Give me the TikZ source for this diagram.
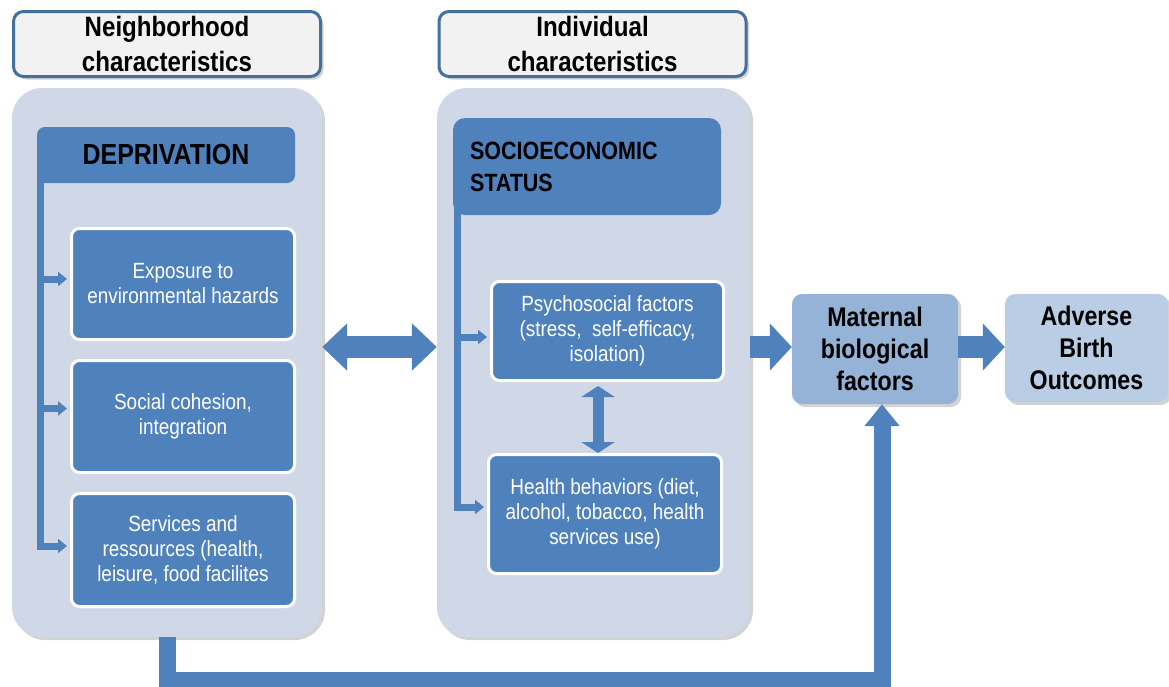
\documentclass[tikz,border=0pt]{standalone}
\usepackage{fontspec}
\setmainfont{Liberation Sans}[FakeStretch=0.86]
\usetikzlibrary{arrows.meta,shadows,calc}

\definecolor{ofblue}{HTML}{4F81BD}
\definecolor{panelfill}{HTML}{D0D8E8}
\definecolor{headline}{HTML}{41719C}
\definecolor{headfill}{HTML}{F2F2F2}
\definecolor{matfill}{HTML}{95B3D7}
\definecolor{advfill}{HTML}{B9CDE5}

\begin{document}
\begin{tikzpicture}[x=1pt,y=-1pt,
  shade/.style={drop shadow={shadow xshift=3pt,shadow yshift=-3pt,opacity=0.35}},
  head/.style={draw=headline,line width=3pt,fill=headfill,rounded corners=10pt,
    minimum width=307pt,minimum height=65pt,inner sep=0pt,align=center,
    font=\bfseries\fontsize{28}{35}\selectfont,shade},
  panel/.style={fill=panelfill,rounded corners=30pt,inner sep=0pt,shade},
  item/.style={draw=white,line width=3pt,fill=ofblue,rounded corners=8pt,text=white,
    inner sep=0pt,align=center,font=\fontsize{22}{25}\selectfont},
  factor/.style={rounded corners=10pt,inner sep=0pt,align=center,
    font=\bfseries\fontsize{27}{32}\selectfont,shade},
  bar/.style={draw=ofblue,line width=7pt,-{Triangle[width=14pt,length=9pt]}},
  fat/.style={draw=ofblue,line width=22pt,-{Triangle[width=46pt,length=22pt]}}
]
\useasboundingbox (0,0) rectangle (1169,686);

% headers
\node[head] (headN) at (167,44) {Neighborhood\\characteristics};
\node[head] (headI) at (592.5,44) {Individual\\characteristics};

% panels
\node[panel,minimum width=310pt,minimum height=549pt] (panN) at (167,362.5) {};
\node[panel,minimum width=313pt,minimum height=549pt] (panI) at (593.5,362.5) {};

% neighborhood side
\coordinate (depbar) at (40.5,175);
\draw[ofblue,line width=7pt] (depbar) -- (40.5,549.5);
\node[fill=ofblue,rounded corners=8pt,minimum width=258pt,minimum height=56pt,inner sep=0pt,
  font=\bfseries\fontsize{29}{34}\selectfont] (dep) at (166,155) {DEPRIVATION};
\node[item,minimum width=223pt,minimum height=111pt] (exp) at (183,284)
  {Exposure to\\environmental hazards};
\node[item,minimum width=223pt,minimum height=112pt] (soc) at (183,416.5)
  {Social cohesion,\\integration};
\node[item,minimum width=223pt,minimum height=113pt] (svc) at (183,550)
  {Services and\\ressources (health,\\leisure, food facilites};
\draw[bar,shorten >=3pt] ($(depbar |- exp.west)+(0,-5)$) -- ($(exp.west)+(0,-5)$);
\draw[bar,shorten >=3pt] ($(depbar |- soc.west)+(0,-8)$) -- ($(soc.west)+(0,-8)$);
\draw[bar,shorten >=3pt] ($(depbar |- svc.west)+(0,-4)$) -- ($(svc.west)+(0,-4)$);

% individual side
\coordinate (sesbar) at (457,200);
\draw[ofblue,line width=7pt] (sesbar) -- (457,510.5);
\node[fill=ofblue,rounded corners=12pt,text width=234pt,minimum height=97pt,inner xsep=17pt,
  align=left,font=\bfseries\fontsize{25}{32}\selectfont] (ses) at (587,166.5)
  {SOCIOECONOMIC\\STATUS};
\node[item,minimum width=232pt,minimum height=99pt] (psy) at (607.5,331)
  {Psychosocial factors\\(stress,~ self-efficacy,\\isolation)};
\node[item,minimum width=233pt,minimum height=119pt] (hb) at (605,514)
  {Health behaviors (diet,\\alcohol, tobacco, health\\services use)};
\draw[bar,shorten >=3pt] ($(sesbar |- psy.west)+(0,6)$) -- ($(psy.west)+(0,6)$);
\draw[bar,shorten >=3pt] ($(sesbar |- hb.west)+(0,-7)$) -- ($(hb.west)+(0,-7)$);
\draw[draw=ofblue,line width=11pt,{Triangle[width=33pt,length=11pt]}-{Triangle[width=33pt,length=11pt]}]
  ($(psy.south)+(-9.5,4)$) -- ($(hb.north)+(-7,0)$);

% outcomes
\node[factor,fill=matfill,minimum width=166pt,minimum height=110pt] (mat) at (875,349)
  {Maternal\\biological\\factors};
\node[factor,fill=advfill,minimum width=163pt,minimum height=108pt] (adv) at (1086.5,348)
  {Adverse\\Birth\\Outcomes};

% connectors
\coordinate (mid) at (0,347);
\draw[fat,{Triangle[width=46pt,length=25pt]}-{Triangle[width=46pt,length=25pt]}]
  (panN.east |- mid) -- (panI.west |- mid);
\draw[fat] (panI.east |- mid) -- (mat.west |- mid);
\draw[fat] (mat.east |- mid) -- (adv.west |- mid);
\draw[draw=ofblue,line width=17pt,-{Triangle[width=34pt,length=22pt]}]
  (panN.south) -- ++(0,43) -| ($(mat.south)+(7,0)$);
\end{tikzpicture}
\end{document}
